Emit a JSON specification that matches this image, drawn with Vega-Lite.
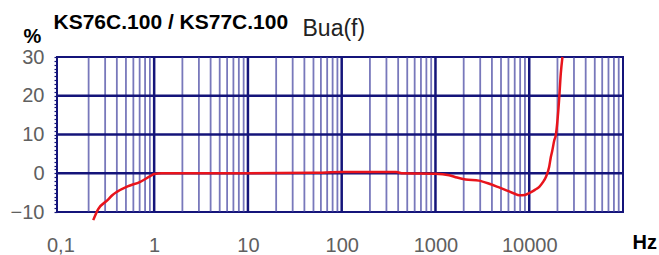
{
  "$schema": "https://vega.github.io/schema/vega-lite/v6.json",
  "width": 566,
  "height": 155,
  "autosize": {"type": "none"},
  "padding": {"left": 57, "top": 57, "right": 36, "bottom": 43},
  "background": "white",
  "config": {
    "font": "Liberation Sans",
    "view": {"stroke": "#14147a", "strokeWidth": 2}
  },
  "datasets": {
    "vgrid": [
      {"f": 1, "kind": "major"}, {"f": 10, "kind": "major"}, {"f": 100, "kind": "major"}, {"f": 1000, "kind": "major"}, {"f": 10000, "kind": "major"},
      {"f": 0.2, "kind": "minor"}, {"f": 0.3, "kind": "minor"}, {"f": 0.4, "kind": "minor"}, {"f": 0.5, "kind": "minor"}, {"f": 0.6, "kind": "minor"}, {"f": 0.7, "kind": "minor"}, {"f": 0.8, "kind": "minor"}, {"f": 0.9, "kind": "minor"},
      {"f": 2, "kind": "minor"}, {"f": 3, "kind": "minor"}, {"f": 4, "kind": "minor"}, {"f": 5, "kind": "minor"}, {"f": 6, "kind": "minor"}, {"f": 7, "kind": "minor"}, {"f": 8, "kind": "minor"}, {"f": 9, "kind": "minor"},
      {"f": 20, "kind": "minor"}, {"f": 30, "kind": "minor"}, {"f": 40, "kind": "minor"}, {"f": 50, "kind": "minor"}, {"f": 60, "kind": "minor"}, {"f": 70, "kind": "minor"}, {"f": 80, "kind": "minor"}, {"f": 90, "kind": "minor"},
      {"f": 200, "kind": "minor"}, {"f": 300, "kind": "minor"}, {"f": 400, "kind": "minor"}, {"f": 500, "kind": "minor"}, {"f": 600, "kind": "minor"}, {"f": 700, "kind": "minor"}, {"f": 800, "kind": "minor"}, {"f": 900, "kind": "minor"},
      {"f": 2000, "kind": "minor"}, {"f": 3000, "kind": "minor"}, {"f": 4000, "kind": "minor"}, {"f": 5000, "kind": "minor"}, {"f": 6000, "kind": "minor"}, {"f": 7000, "kind": "minor"}, {"f": 8000, "kind": "minor"}, {"f": 9000, "kind": "minor"},
      {"f": 20000, "kind": "minor"}, {"f": 30000, "kind": "minor"}, {"f": 40000, "kind": "minor"}, {"f": 50000, "kind": "minor"}, {"f": 60000, "kind": "minor"}, {"f": 70000, "kind": "minor"}, {"f": 80000, "kind": "minor"}, {"f": 90000, "kind": "minor"}
    ],
    "hgrid": [
      {"v": 0, "kind": "major"}, {"v": 10, "kind": "major"}, {"v": 20, "kind": "major"}
    ],
    "curve": [
      {"f": 0.224, "v": -12.1}, {"f": 0.254, "v": -9.2}, {"f": 0.316, "v": -7.0}, {"f": 0.36, "v": -5.6},
      {"f": 0.4, "v": -4.8}, {"f": 0.52, "v": -3.4}, {"f": 0.71, "v": -2.2}, {"f": 0.9, "v": -0.8},
      {"f": 1.0, "v": -0.2}, {"f": 1.2, "v": 0}, {"f": 10, "v": 0}, {"f": 50, "v": 0.1},
      {"f": 100, "v": 0.3}, {"f": 200, "v": 0.3}, {"f": 380, "v": 0.3}, {"f": 450, "v": 0},
      {"f": 1000, "v": -0.1}, {"f": 1400, "v": -0.5}, {"f": 1700, "v": -1.1}, {"f": 2100, "v": -1.6},
      {"f": 2900, "v": -1.9}, {"f": 3750, "v": -2.7}, {"f": 4700, "v": -3.6}, {"f": 5700, "v": -4.4},
      {"f": 7000, "v": -5.3}, {"f": 7800, "v": -5.7}, {"f": 9000, "v": -5.6}, {"f": 10000, "v": -5.1},
      {"f": 11500, "v": -4.3}, {"f": 12800, "v": -3.5}, {"f": 14000, "v": -2.3}, {"f": 15100, "v": -0.9},
      {"f": 16300, "v": 1.6}, {"f": 17000, "v": 4.2}, {"f": 17600, "v": 5.8}, {"f": 18500, "v": 8.5},
      {"f": 19200, "v": 9.8}, {"f": 20800, "v": 18.8}, {"f": 21700, "v": 25.7}, {"f": 22600, "v": 30}
    ]
  },
  "resolve": {"axis": {"x": "independent", "y": "independent"}},
  "layer": [
    {
      "data": {"name": "vgrid"},
      "mark": {"type": "rule"},
      "encoding": {
        "x": {
          "field": "f", "type": "quantitative",
          "scale": {"type": "log", "domain": [0.092, 100000], "nice": false},
          "axis": {
            "orient": "bottom",
            "values": [0.1, 1, 10, 100, 1000, 10000],
            "format": "d",
            "labelExpr": "datum.value < 0.5 ? '0,1' : datum.label",
            "grid": false, "ticks": false, "tickSize": 0, "domain": false,
            "labelPadding": 39, "labelBaseline": "alphabetic",
            "labelFontSize": 20, "labelColor": "#606060",
            "labelFlush": false, "labelOverlap": false, "labelBound": false,
            "title": "Hz", "titleFontSize": 20, "titleFontWeight": "bold", "titleColor": "#000000",
            "titleX": 575, "titleY": 36, "titleAlign": "left", "titleBaseline": "alphabetic"
          }
        },
        "color": {"field": "kind", "type": "nominal", "scale": {"domain": ["major", "minor"], "range": ["#14147a", "#3e3e9e"]}, "legend": null},
        "size": {"field": "kind", "type": "nominal", "scale": {"domain": ["major", "minor"], "range": [2.5, 1.8]}, "legend": null},
        "opacity": {"field": "kind", "type": "nominal", "scale": {"domain": ["major", "minor"], "range": [1, 0.7]}, "legend": null}
      }
    },
    {
      "data": {"name": "hgrid"},
      "mark": {"type": "rule"},
      "encoding": {
        "y": {
          "field": "v", "type": "quantitative",
          "scale": {"domain": [-10, 30], "nice": false, "zero": false},
          "axis": {
            "orient": "left",
            "values": [-10,-9,-8,-7,-6,-5,-4,-3,-2,-1,0,1,2,3,4,5,6,7,8,9,10,11,12,13,14,15,16,17,18,19,20,21,22,23,24,25,26,27,28,29,30],
            "labelExpr": "datum.value % 10 == 0 ? datum.label : ''",
            "grid": false, "domain": false,
            "ticks": true, "tickSize": 3, "tickColor": "#14147a", "tickWidth": 1.2,
            "labelPadding": 10, "labelFontSize": 20, "labelColor": "#606060",
            "labelFlush": false, "labelOverlap": false, "labelBound": false,
            "title": "%", "titleAngle": 0, "titleFontSize": 20, "titleFontWeight": "bold", "titleColor": "#000000",
            "titleX": -25, "titleY": -15, "titleAlign": "center", "titleBaseline": "alphabetic"
          }
        },
        "color": {"field": "kind", "type": "nominal", "scale": {"domain": ["major", "minor"], "range": ["#14147a", "#3e3e9e"]}, "legend": null},
        "size": {"value": 2.5}
      }
    },
    {
      "data": {"name": "curve"},
      "mark": {"type": "line", "color": "#e8141c", "strokeWidth": 2.5, "clip": false, "interpolate": "monotone"},
      "encoding": {
        "x": {
          "field": "f", "type": "quantitative",
          "scale": {"type": "log", "domain": [0.092, 100000], "nice": false},
          "axis": {
            "orient": "top", "labels": false, "ticks": false, "domain": false, "grid": false,
            "title": "KS76C.100 / KS77C.100", "titleFontSize": 21, "titleFontWeight": "bold", "titleColor": "#000000",
            "titleX": -4, "titleY": -29, "titleAlign": "left", "titleBaseline": "alphabetic"
          }
        },
        "y": {
          "field": "v", "type": "quantitative",
          "scale": {"domain": [-10, 30], "nice": false, "zero": false},
          "axis": {
            "orient": "right", "labels": false, "ticks": false, "domain": false, "grid": false,
            "title": "Bua(f)", "titleAngle": 0, "titleFontSize": 23, "titleFontWeight": "normal", "titleColor": "#222222",
            "titleX": -321, "titleY": -22, "titleAlign": "left", "titleBaseline": "alphabetic"
          }
        }
      }
    }
  ]
}
